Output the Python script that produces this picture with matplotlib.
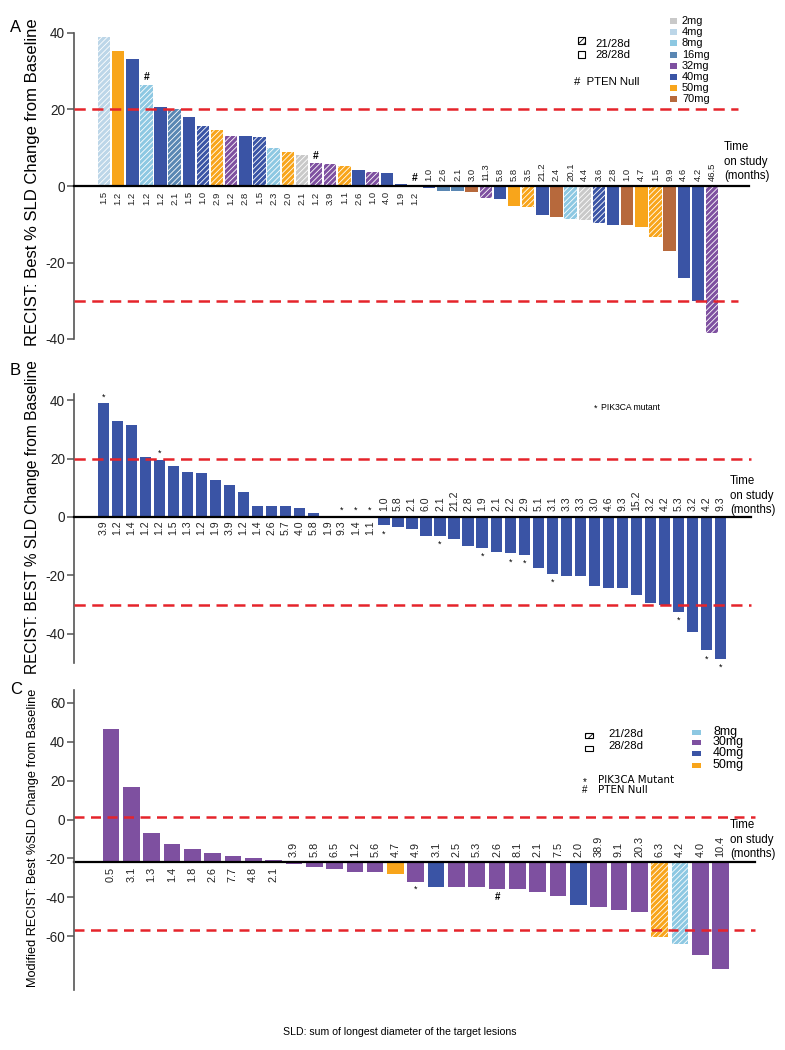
import matplotlib
matplotlib.use("Agg")
import matplotlib.pyplot as plt
from matplotlib.patches import Rectangle
import numpy as np

plt.rcParams['font.family'] = ['Liberation Sans', 'DejaVu Sans']
plt.rcParams['hatch.linewidth'] = 0.6
plt.rcParams['axes.unicode_minus'] = False

# ---------------- data ----------------
# Panel A
a_values = [38.9, 35.3, 33.2, 26.4, 20.7, 20.0, 18.0, 15.7, 14.6, 13.2, 13.1, 12.7,
            9.9, 8.9, 8.1, 5.9, 5.8, 5.3, 4.1, 3.7, 3.4, 0.5, 0.0,
            -0.5, -1.3, -1.4, -1.5, -3.2, -3.5, -5.2, -5.4, -7.6, -8.0, -8.5, -8.9,
            -9.7, -10.3, -10.3, -10.6, -13.4, -17.1, -24.1, -30.0, -38.4]
a_months = ["1.5", "1.2", "1.2", "1.2", "1.2", "2.1", "1.5", "1.0", "2.9", "1.2", "2.8", "1.5",
            "2.3", "2.0", "2.1", "1.2", "3.9", "1.1", "2.6", "1.0", "4.0", "1.9", "1.2",
            "1.0", "2.6", "2.1", "3.0", "11.3", "5.8", "5.8", "3.5", "21.2", "2.4", "20.1", "4.4",
            "3.6", "2.8", "1.0", "4.7", "1.5", "9.9", "4.6", "4.2", "46.5"]
a_doses = ["4mg", "50mg", "40mg", "8mg", "40mg", "16mg", "40mg", "40mg", "50mg", "32mg", "40mg", "40mg",
           "8mg", "50mg", "2mg", "32mg", "32mg", "50mg", "40mg", "32mg", "40mg", "40mg", "40mg",
           "40mg", "16mg", "16mg", "70mg", "32mg", "40mg", "50mg", "50mg", "40mg", "70mg", "8mg", "2mg",
           "40mg", "40mg", "70mg", "50mg", "50mg", "70mg", "40mg", "40mg", "32mg"]
a_sched = ["21/28d", "28/28d", "28/28d", "21/28d", "28/28d", "21/28d", "28/28d", "21/28d", "21/28d", "21/28d", "28/28d", "21/28d",
           "21/28d", "21/28d", "21/28d", "21/28d", "21/28d", "21/28d", "28/28d", "21/28d", "28/28d", "28/28d", "28/28d",
           "28/28d", "28/28d", "28/28d", "28/28d", "21/28d", "28/28d", "28/28d", "21/28d", "28/28d", "28/28d", "21/28d", "21/28d",
           "21/28d", "28/28d", "28/28d", "28/28d", "21/28d", "28/28d", "28/28d", "28/28d", "21/28d"]
a_marks = {3: "#", 15: "#", 22: "#"}
a_dose_legend = ["2mg", "4mg", "8mg", "16mg", "32mg", "40mg", "50mg", "70mg"]

# Panel B
b_values = [38.9, 33.0, 31.4, 20.5, 19.6, 17.6, 15.3, 15.1, 12.8, 10.8, 8.6, 3.9, 3.9, 3.9, 3.1, 1.4,
            0.0, 0.0, 0.0, 0.0,
            -2.9, -3.3, -4.2, -6.5, -6.5, -7.5, -10.1, -10.5, -11.9, -12.4, -12.9, -17.5, -19.5,
            -20.1, -20.1, -23.7, -24.2, -24.2, -26.6, -29.5, -30.1, -32.5, -39.4, -45.6, -48.5]
b_months = ["3.9", "1.2", "1.4", "1.2", "1.2", "1.5", "1.3", "1.2", "1.9", "3.9", "1.2", "1.4", "2.6", "5.7", "4.0", "5.8",
            "1.9", "9.3", "1.4", "1.1",
            "1.0", "5.8", "2.1", "6.0", "2.1", "21.2", "2.8", "1.9", "2.1", "2.2", "2.9", "5.1", "3.1",
            "3.3", "3.3", "3.0", "4.6", "9.3", "15.2", "3.2", "4.2", "5.3", "3.2", "4.2", "9.3"]
b_pik3ca = [0, 4, 17, 18, 19, 20, 24, 27, 29, 30, 32, 41, 43, 44]

# Panel C
c_values = [59.0, 33.0, 12.8, 7.8, 5.7, 3.8, 2.8, 1.8, 0.9,
            -1.0, -2.3, -3.2, -4.3, -4.3, -5.2, -9.0, -11.0, -11.0, -11.0, -11.9, -12.0, -13.1,
            -15.2, -19.1, -20.1, -21.2, -22.1, -33.4, -36.3, -41.2, -47.2]
c_months = ["0.5", "3.1", "1.3", "1.4", "1.8", "2.6", "7.7", "4.8", "2.1",
            "3.9", "5.8", "6.5", "1.2", "5.6", "4.7", "4.9", "3.1", "2.5", "5.3", "2.6", "8.1", "2.1",
            "7.5", "2.0", "38.9", "9.1", "20.3", "6.3", "4.2", "4.0", "10.4"]
c_doses = ["30mg"] * 14 + ["50mg", "30mg", "40mg"] + ["30mg"] * 6 + ["40mg"] + ["30mg"] * 3 + \
          ["50mg", "8mg", "30mg", "30mg"]
c_sched = ["28/28d"] * 27 + ["21/28d", "21/28d", "28/28d", "28/28d"]
c_marks = {15: "*", 19: "#"}
c_dose_legend = ["8mg", "30mg", "40mg", "50mg"]

# ---------------- style ----------------
dose_colors = {"2mg": "#c9c9c9", "4mg": "#bcd6e8", "8mg": "#8dc8e2", "16mg": "#5a87b3",
               "30mg": "#7e50a0", "32mg": "#7e50a0", "40mg": "#3a54a5", "50mg": "#f8a51b",
               "70mg": "#b7693c"}
RED = "#e5242b"
W, H = 785, 1050
fig = plt.figure(figsize=(W / 100, H / 100), dpi=100)


def px_axes(l, t, r, b):
    return fig.add_axes([l / W, 1 - b / H, (r - l) / W, (b - t) / H])


def ftext(x, y, s, **kw):
    return fig.text(x / W, 1 - y / H, s, **kw)


def frect(x, y, w, h, **kw):
    r = Rectangle((x / W, 1 - (y + h) / H), w / W, h / H, transform=fig.transFigure, **kw)
    fig.add_artist(r)
    return r


def style_axis(ax, ylim, ticks, show_left=True):
    ax.set_ylim(*ylim)
    for s in ["top", "right", "bottom"]:
        ax.spines[s].set_visible(False)
    ax.set_xticks([])
    if show_left:
        ax.spines["left"].set_color("#555555")
        ax.spines["left"].set_linewidth(1.2)
        ax.set_yticks(ticks)
        ax.tick_params(axis="y", length=5, width=1.1, color="#555555", labelsize=9.8,
                       labelcolor="#222222", pad=1.5)
    else:
        ax.spines["left"].set_visible(False)
        ax.set_yticks([])
    ax.patch.set_alpha(0)


def waterfall(ax, values, months, doses, sched, width, fs, off_below, off_above, hatch):
    x = np.arange(len(values))
    for i in x:
        hatched = sched[i] == "21/28d"
        c = dose_colors[doses[i]]
        ax.bar(i, values[i], width=width, color=c, edgecolor="white" if hatched else c,
               linewidth=0, hatch=hatch if hatched else None)
    for i in x:
        if values[i] >= 0:
            ax.annotate(months[i], (i, 0), xytext=(0, -off_below), textcoords="offset points",
                        rotation=90, ha="center", va="top", fontsize=fs, color="#222222")
        else:
            ax.annotate(months[i], (i, 0), xytext=(0, off_above), textcoords="offset points",
                        rotation=90, ha="center", va="bottom", fontsize=fs, color="#222222")


def refs(ax, x0, x1, zx1, dashes):
    ax.plot([x0, zx1], [0, 0], color="black", lw=1.6, clip_on=False, zorder=3)
    for yv in (20, -30):
        ax.plot([x0, x1], [yv, yv], color=RED, lw=1.8, dashes=dashes, clip_on=False, zorder=4)


# ---------------- Panel A ----------------
axA = px_axes(74, 33, 765, 339)
pA, cA = 14.14, 104
xa0, xa1 = (74 - cA) / pA, (765 - cA) / pA
axA.set_xlim(xa0, xa1)
style_axis(axA, (-40, 40), [-40, -20, 0, 20, 40])
refs(axA, xa0, (738 - cA) / pA, (749 - cA) / pA, (4.5, 2.6))
waterfall(axA, a_values, a_months, a_doses, a_sched, 0.88, 6.8, 3.8, 3.6, "//////")
for i, s in a_marks.items():
    axA.annotate(s, (i, a_values[i]), xytext=(0, 2), textcoords="offset points",
                 ha="center", va="bottom", fontsize=7.5, fontweight="bold")

ftext(33, 182, "RECIST: Best % SLD Change from Baseline", rotation=90, ha="center",
      va="center", fontsize=12)
ftext(10, 28, "A", fontsize=12, ha="left", va="center")
ftext(724, 141, "Time\non study\n(months)", fontsize=8.3, ha="left", va="top", linespacing=1.3)

# legend A
frect(578, 37, 7, 7, facecolor="white", edgecolor="black", linewidth=0.8, hatch="//////")
ftext(595, 44, "21/28d", fontsize=8.2, va="center")
frect(578, 51, 7, 7, facecolor="white", edgecolor="black", linewidth=0.8)
ftext(595, 55, "28/28d", fontsize=8.2, va="center")
ftext(574, 82, "#  PTEN Null", fontsize=8.2, va="center")
for k, d in enumerate(a_dose_legend):
    yc = 21.2 + 11.1 * k
    frect(670, yc - 3, 7, 6, facecolor=dose_colors[d], edgecolor="none")
    ftext(682, yc, d, fontsize=7.9, va="center")

# ---------------- Panel B ----------------
axB = px_axes(74, 394, 765, 663)
pB, cB = 14.03, 103.3
xb0, xb1 = (74 - cB) / pB, (765 - cB) / pB
axB.set_xlim(xb0, xb1)
b0, bs = 517, 2.92
style_axis(axB, (-(663 - b0) / bs, (b0 - 394) / bs), [-40, -20, 0, 20, 40])
refs(axB, xb0, (751 - cB) / pB, (751 - cB) / pB, (4.5, 2.6))
waterfall(axB, b_values, b_months, ["40mg"] * len(b_values), ["28/28d"] * len(b_values),
          0.8, 7.6, 2.5, 4.5, None)
for i in b_pik3ca:
    v = b_values[i]
    if v >= 0:
        axB.annotate("*", (i, v), xytext=(0, 1.5), textcoords="offset points",
                     ha="center", va="bottom", fontsize=6.5)
    else:
        axB.annotate("*", (i, v), xytext=(0, -3), textcoords="offset points",
                     ha="center", va="top", fontsize=6.5)

ftext(33, 517, "RECIST: BEST % SLD Change from Baseline", rotation=90, ha="center",
      va="center", fontsize=11.2)
ftext(10, 370, "B", fontsize=12, ha="left", va="center")
ftext(730, 475, "Time\non study\n(months)", fontsize=8.3, ha="left", va="top", linespacing=1.3)
ftext(594, 408, "*", fontsize=6.5, ha="left", va="center")
ftext(601, 407, "PIK3CA mutant", fontsize=6.2, ha="left", va="center")

# ---------------- Panel C ----------------
axC = px_axes(74, 715, 765, 990)
pC, cC = 20.32, 111
xc0, xc1 = (74 - cC) / pC, (765 - cC) / pC
axC.set_xlim(xc0, xc1)
c0, cs = 862, 2.26
style_axis(axC, (-(990 - c0) / cs, (c0 - 715) / cs), [], show_left=False)
refs(axC, xc0, (755 - cC) / pC, (755 - cC) / pC, (4.0, 2.6))
waterfall(axC, c_values, c_months, c_doses, c_sched, 0.82, 7.8, 3.6, 3.6, "//////")
for i, s in c_marks.items():
    axC.annotate(s, (i, c_values[i]), xytext=(0, -2), textcoords="offset points",
                 ha="center", va="top", fontsize=7 if s == "#" else 6.5,
                 fontweight="bold" if s == "#" else "normal")

# y scale of panel C as drawn in the reference (offset from the bars)
axCt = px_axes(74, 690, 75, 990)
t60, tm60 = 703, 936
ts = (tm60 - t60) / 120
style_axis(axCt, (-60 - (990 - tm60) / ts, 60 + (t60 - 690) / ts), [-60, -40, -20, 0, 20, 40, 60])

ftext(33, 838, "Modified RECIST: Best %SLD Change from Baseline", rotation=90, ha="center",
      va="center", fontsize=9.2)
ftext(10, 690, "C", fontsize=12, ha="left", va="center")
ftext(730, 819, "Time\non study\n(months)", fontsize=8.3, ha="left", va="top", linespacing=1.3)

# legend C
frect(585, 733, 8, 5, facecolor="white", edgecolor="black", linewidth=0.8, hatch="/////")
ftext(608, 734, "21/28d", fontsize=8.2, va="center")
frect(585, 746, 8, 5, facecolor="white", edgecolor="black", linewidth=0.8)
ftext(608, 746, "28/28d", fontsize=8.2, va="center")
for k, (d, yc) in enumerate(zip(c_dose_legend, [732, 742, 753, 765])):
    frect(692, yc - 2.5, 9, 5, facecolor=dose_colors[d], edgecolor="none")
    ftext(713, yc, d, fontsize=9, va="center")
ftext(583, 782, "*", fontsize=7, va="center")
ftext(598, 780, "PIK3CA Mutant", fontsize=7.4, va="center", family="DejaVu Sans")
ftext(582, 790, "#", fontsize=7, va="center")
ftext(598, 790, "PTEN Null", fontsize=7.4, va="center", family="DejaVu Sans")

ftext(400, 1032, "SLD: sum of longest diameter of the target lesions", fontsize=7.6,
      ha="center", va="center")

fig.savefig("out.png", dpi=100)
